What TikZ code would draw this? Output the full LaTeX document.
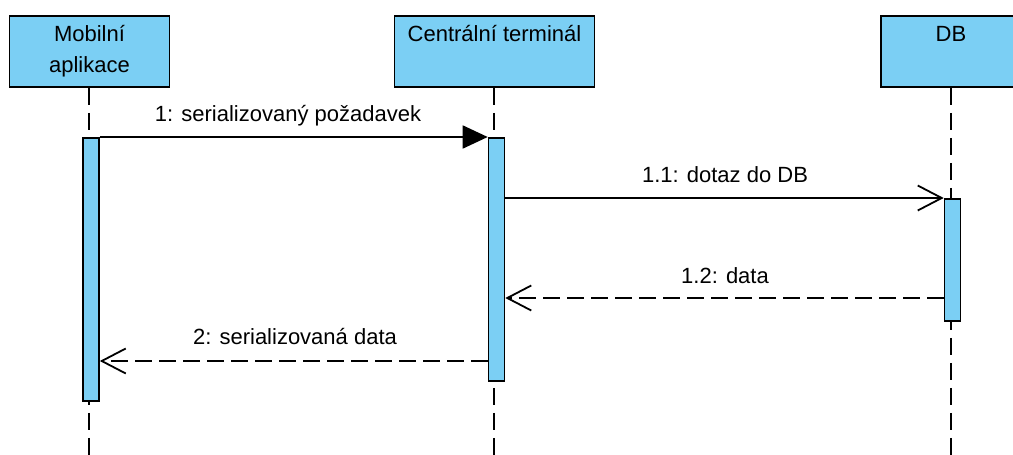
\documentclass[tikz,border=0pt]{standalone}
\usepackage{fontspec}
\setmainfont{Liberation Sans}
\usetikzlibrary{arrows.meta}
\definecolor{actfill}{RGB}{123,207,244}
\tikzset{
  every node/.style={font=\fontsize{22}{31}\selectfont},
  headbox/.style={draw=black, fill=actfill, line width=1.8pt, inner xsep=0pt, inner ysep=0pt, minimum height=71pt, anchor=north},
  toptext/.style={text height=25.7pt, text depth=45.3pt},
  actbar/.style={draw=black, fill=actfill, line width=1.6pt, minimum width=16pt, inner sep=0pt, anchor=north},
  lifeline/.style={line width=1.8pt, dash pattern=on 17pt off 8pt},
  msg/.style={line width=1.8pt},
  retmsg/.style={line width=1.8pt, dash pattern=on 17pt off 7pt},
  syncarrow/.style={-{Triangle[length=25pt,width=23pt]}},
  openarrow/.style={-{Straight Barb[length=24pt,width=25pt,line width=1.8pt]}},
  lbl/.style={anchor=base, inner sep=0pt}
}
\begin{document}
\begin{tikzpicture}[x=1pt,y=-1pt]
\clip (0,0) rectangle (1013,455);
\fill[white] (0,0) rectangle (1013,455);
% header boxes
\node[headbox, minimum width=160pt, align=center] (mob) at (89.5,15) {Mobilní\\aplikace};
\node[headbox, minimum width=200pt, toptext] (cen) at (494.5,15) {Centrální terminál};
\node[headbox, minimum width=140pt, toptext] (db) at (951,15) {DB};
% lifelines
\coordinate (mobend) at (89,455);
\coordinate (cenend) at (494,455);
\coordinate (dbend) at (951,455);
\draw[lifeline] (mob.south -| mobend) -- (mobend);
\draw[lifeline] (cen.south -| cenend) -- (cenend);
\draw[lifeline] (db.south -| dbend) -- (dbend);
% activation bars
\node[actbar, minimum height=263pt] (mbar) at (91,137) {};
\node[actbar, minimum height=243pt] (cbar) at (496.5,137) {};
\node[actbar, minimum height=122pt] (dbar) at (952.5,198) {};
% message levels
\coordinate (y3) at (0,298);
\coordinate (y4) at (0,361);
\coordinate (y2) at (0,198);
% messages
\draw[msg, syncarrow] (mbar.north east) -- (cbar.north west);
\node[lbl] (l1) at (288,121) {1: serializovaný požadavek};
\draw[msg, openarrow] (cbar.east |- y2) -- (dbar.north west);
\node[lbl] (l2) at (725,182) {1.1: dotaz do DB};
\draw[retmsg, openarrow] (dbar.west |- y3) -- (cbar.east |- y3);
\node[lbl] (l3) at (725,283) {1.2: data};
\draw[retmsg, openarrow] (cbar.west |- y4) -- (mbar.east |- y4);
\node[lbl] (l4) at (295,344) {2: serializovaná data};
\end{tikzpicture}
\end{document}
